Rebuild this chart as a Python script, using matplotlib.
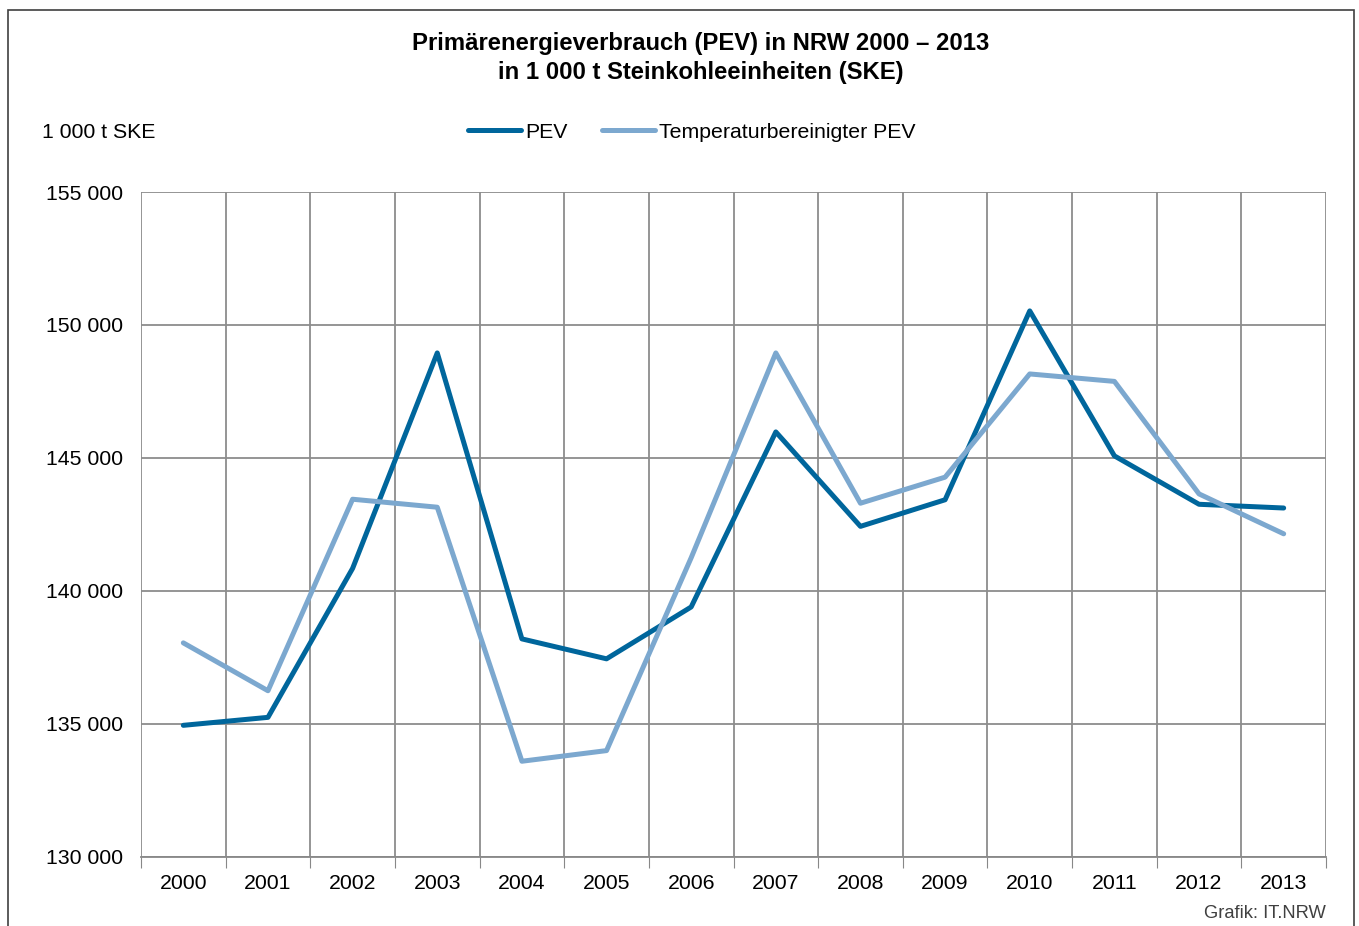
import numpy as np
import matplotlib.pyplot as plt
from matplotlib.patches import Rectangle
from matplotlib.ticker import FuncFormatter

plt.rcParams['font.family'] = ['Liberation Sans', 'DejaVu Sans']

years = ['2000', '2001', '2002', '2003', '2004', '2005', '2006',
         '2007', '2008', '2009', '2010', '2011', '2012', '2013']
pev = [134950, 135250, 140850, 148950, 138200, 137450, 139400,
       145980, 142430, 143430, 150530, 145080, 143260, 143120]
pev_temp = [138050, 136250, 143450, 143150, 133600, 134000, 141250,
            148950, 143300, 144280, 148160, 147880, 143650, 142150]

W, H = 1359, 926
fig = plt.figure(figsize=(W / 100, H / 100), dpi=100)
ax = fig.add_axes([141 / W, 1 - 857 / H, (1326 - 141) / W, (857 - 192) / H])

# outer frame (bottom edge is cut off in the original)
fig.add_artist(Rectangle((8 / W, -0.05), (1354 - 8) / W, 1 - 10 / H + 0.05,
                         transform=fig.transFigure, fill=False,
                         edgecolor='#404040', linewidth=1.2))

x = np.arange(len(years))
ax.plot(x, pev, color='#00669C', linewidth=3.6, solid_capstyle='round', label='PEV')
ax.plot(x, pev_temp, color='#7CA8CF', linewidth=3.6, solid_capstyle='round',
        label='Temperaturbereinigter PEV')

ax.set_xlim(-0.5, len(years) - 0.5)
ax.set_ylim(130000, 155000)
ax.set_yticks(np.arange(130000, 155001, 5000))
ax.yaxis.set_major_formatter(FuncFormatter(lambda v, p: f'{int(v):,}'.replace(',', ' ')))

ax.set_xticks(np.arange(-0.5, len(years), 1.0))
ax.set_xticklabels([])
ax.set_xticks(x, minor=True)
ax.set_xticklabels(years, minor=True)
ax.tick_params(axis='x', which='major', length=8, color='#888888', direction='out')
ax.tick_params(axis='x', which='minor', length=0, labelsize=15.3, pad=12)
ax.tick_params(axis='y', length=0, labelsize=15.3, pad=13)

ax.grid(True, which='major', color='#8c8c8c', linewidth=1.3)
ax.set_axisbelow(True)
for s in ['top', 'right']:
    ax.spines[s].set_visible(False)
ax.spines['left'].set_visible(False)
ax.spines['bottom'].set_color('#888888')
ax.spines['bottom'].set_linewidth(1.3)

fig.text(701 / W, 1 - 58 / H,
         'Primärenergieverbrauch (PEV) in NRW 2000 – 2013\nin 1 000 t Steinkohleeinheiten (SKE)',
         ha='center', va='center', fontsize=17.2, fontweight='bold', linespacing=1.3)
fig.text(42 / W, 1 - 132 / H, '1 000 t SKE', ha='left', va='center', fontsize=15.3)
fig.text(1326 / W, 1 - 913 / H, 'Grafik: IT.NRW', ha='right', va='center',
         fontsize=13.2, color='#404040')

fig.legend(loc='center', bbox_to_anchor=(692 / W, 1 - 132 / H), ncol=2, frameon=False,
           fontsize=15.3, handlelength=2.5, handletextpad=0.2, columnspacing=1.6)

fig.savefig('out.png', dpi=100)
